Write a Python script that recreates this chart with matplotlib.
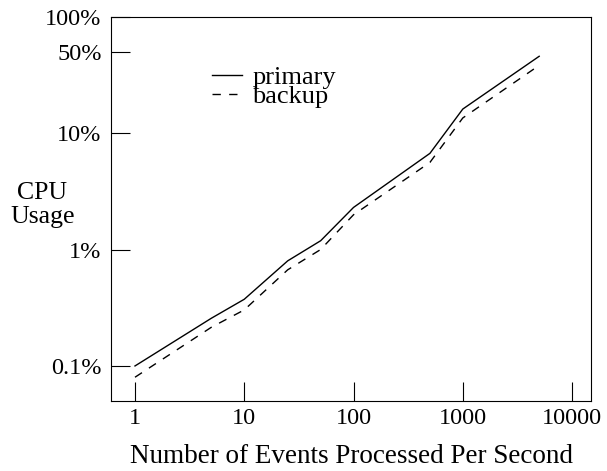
import matplotlib
matplotlib.use("Agg")
import matplotlib.pyplot as plt

plt.rcParams['font.family'] = ['Liberation Serif', 'DejaVu Serif']

events = [1, 5, 10, 25, 50, 100, 500, 1000, 5000]
primary = [0.1, 0.257, 0.374, 0.8, 1.19, 2.3, 6.7, 16.1, 45.7]
backup = [0.08, 0.215, 0.303, 0.67, 1.0, 1.99, 5.6, 13.5, 38.2]

xticks = [1, 10, 100, 1000, 10000]
xticklabels = ["1", "10", "100", "1000", "10000"]
yticks = [0.1, 1, 10, 50, 100]
yticklabels = ["0.1%", "1%", "10%", "50%", "100%"]

fig = plt.figure(figsize=(6.07, 4.71), dpi=100)
ax = fig.add_axes([111.3/607, 1 - 401/471, (591 - 111.3)/607, (401 - 16.7)/471])

ax.plot(events, primary, color='black', lw=1.0, label='primary')
ax.plot(events, backup, color='black', lw=1.0, ls=(0, (6, 6)), label='backup')

ax.set_xscale('log')
ax.set_yscale('log')
ax.set_xlim(0.607, 14900)
ax.set_ylim(0.05, 100)
ax.set_xticks(xticks)
ax.set_xticklabels(xticklabels)
ax.set_yticks(yticks)
ax.set_yticklabels(yticklabels)
ax.minorticks_off()
ax.tick_params(direction='in', length=13.7, width=0.8, labelsize=17.5, pad=5)
ax.tick_params(axis='y', pad=7)
for s in ax.spines.values():
    s.set_linewidth(0.8)

ax.set_xlabel('Number of Events Processed Per Second', fontsize=19.5, labelpad=11)
ax.set_ylabel('CPU\nUsage', fontsize=18.5, rotation=0, linespacing=1.12,
              va='center', ha='center')
ax.yaxis.set_label_coords(-0.144, 0.511)

leg = ax.legend(loc='upper left', bbox_to_anchor=(0.209, 0.873), frameon=False,
                fontsize=19, handlelength=1.17, handletextpad=0.38,
                labelspacing=-0.15, borderpad=0, borderaxespad=0)

fig.savefig('out.png', dpi=100)
